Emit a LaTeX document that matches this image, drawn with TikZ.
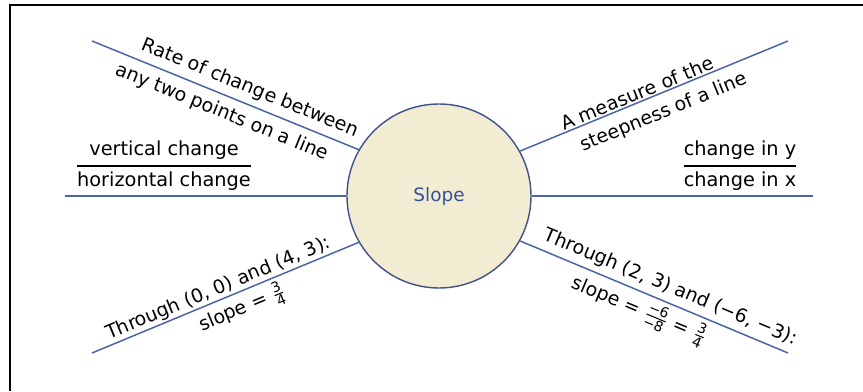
\documentclass[tikz,border=0pt]{standalone}
\usepackage{amsmath}
\usepackage{fontspec}
\setsansfont{DejaVu Sans}
\definecolor{spokeblue}{RGB}{74,100,166}
\definecolor{hubfill}{RGB}{242,237,210}
\definecolor{hubedge}{RGB}{64,82,140}
\definecolor{hubtext}{RGB}{52,82,156}
\newcommand{\sfrac}[2]{\genfrac{}{}{0.6pt}{1}{\text{\footnotesize #1}}{\text{\footnotesize #2}}}
\newcommand{\bigfrac}[2]{\genfrac{}{}{1pt}{0}{\text{#1}}{\text{#2}}}
\begin{document}
\begin{tikzpicture}[
  x=1mm, y=1mm, font=\sffamily\small,
  hub/.style={circle,draw=hubedge,line width=0.8pt,fill=hubfill,minimum size=36.8mm,
              inner sep=0pt,font=\sffamily\fontsize{10.5}{12}\selectfont,text=hubtext},
  spoke/.style={draw=spokeblue,line width=0.85pt},
  lbl/.style={font=\sffamily\fontsize{10.8}{12}\selectfont,text=black,sloped,inner sep=1.2pt},
  ratio/.style={font=\sffamily\fontsize{11}{13}\selectfont,text=black,inner sep=0pt}]

\useasboundingbox (0,0) rectangle (172.6,78.2);
\draw[line width=1.7pt] (2.0,0) -- (2.0,77.2) -- (172.6,77.2);

\node[hub] (slope) at (87.8,39.0) {Slope};
\coordinate (ul) at ( 18.4,70.0);
\coordinate (ml) at ( 13.0,39.0);
\coordinate (ll) at ( 18.4, 7.6);
\coordinate (ur) at (157.6,70.0);
\coordinate (mr) at (162.6,39.0);
\coordinate (lr) at (157.6, 7.6);

\draw[spoke] (ul) -- (slope.150)
  node[lbl,above=0.8mm,pos=0.57] {Rate of change between}
  node[lbl,below=1.0mm,pos=0.51] {any two points on a line};
\draw[spoke] (ml) -- (slope.west);
\draw[spoke] (ll) -- (slope.210)
  node[lbl,above=-0.2mm,pos=0.49] {Through (0, 0) and (4, 3):}
  node[lbl,below=0.2mm,pos=0.54] {slope = $\sfrac{3}{4}$};

\draw[spoke] (slope.29) -- (ur)
  node[lbl,above=-0.2mm,pos=0.45] {A measure of the}
  node[lbl,below=1.4mm,pos=0.51] {steepness of a line};
\draw[spoke] (slope.east) -- (mr);
\draw[spoke] (slope.331) -- (lr)
  node[lbl,above=0.6mm,pos=0.54] {Through (2, 3) and (−6, −3):}
  node[lbl,below=0.5mm,pos=0.47] {slope = $\sfrac{−6}{−8}$ = $\sfrac{3}{4}$};

\node[ratio] (vh) at ( 32.8,45.0) {$\bigfrac{vertical change}{horizontal change}$};
\node[ratio] (yx) at (148.0,45.0) {$\bigfrac{change in y}{change in x}$};
\end{tikzpicture}
\end{document}
